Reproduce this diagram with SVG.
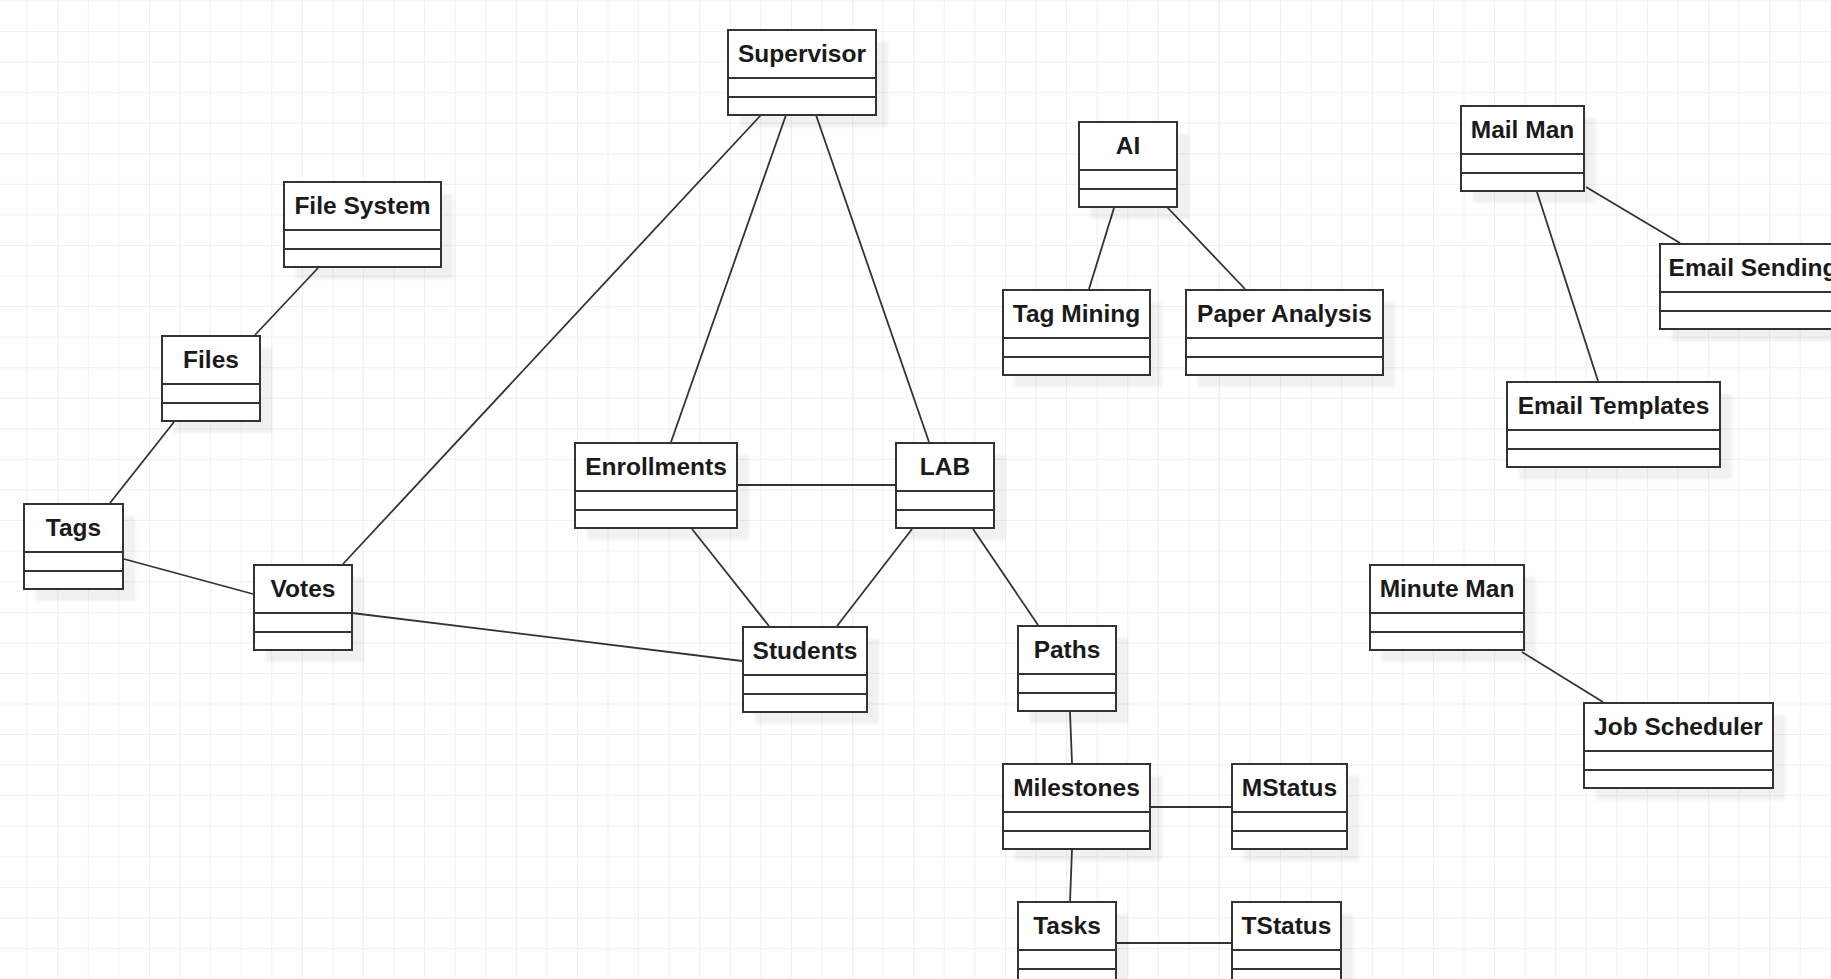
<svg xmlns="http://www.w3.org/2000/svg" width="1831" height="979" viewBox="0 0 1831 979">
<defs>
<pattern id="grid" width="30.57" height="30.57" patternUnits="userSpaceOnUse" x="26.7" y="0.4">
<path d="M0 0.5H30.57M0.5 0V30.57" stroke="#efefef" stroke-width="1" fill="none"/>
</pattern>
<filter id="blur" x="-10%" y="-10%" width="120%" height="120%"><feGaussianBlur stdDeviation="1.5"/></filter>
<style>
.sh{fill:#000;fill-opacity:0.055;filter:url(#blur)}
.box{fill:#fff;stroke:#333;stroke-width:2}
.div{stroke:#333;stroke-width:2;fill:none}
.lbl{font-family:"Liberation Sans",Arial,sans-serif;font-weight:bold;font-size:24.5px;fill:#1a1a1a;text-anchor:middle}
.con line{stroke:#333;stroke-width:1.8}
</style>
</defs>
<rect width="1831" height="979" fill="#fff"/>
<rect width="1831" height="979" fill="url(#grid)"/>
<g id="connectors" class="con">
<line x1="318" y1="268" x2="255" y2="335"/>
<line x1="174" y1="422" x2="110" y2="503"/>
<line x1="124" y1="559" x2="253" y2="594"/>
<line x1="343" y1="564" x2="761" y2="115"/>
<line x1="352" y1="613" x2="742" y2="661"/>
<line x1="786" y1="115" x2="671" y2="442"/>
<line x1="816" y1="115" x2="929" y2="442"/>
<line x1="737" y1="485" x2="896" y2="485"/>
<line x1="692" y1="529" x2="769" y2="626"/>
<line x1="912" y1="529" x2="837" y2="626"/>
<line x1="973" y1="529" x2="1038" y2="625"/>
<line x1="1070" y1="712" x2="1072" y2="763"/>
<line x1="1150" y1="807" x2="1232" y2="807"/>
<line x1="1072" y1="849" x2="1070" y2="902"/>
<line x1="1116" y1="943" x2="1232" y2="943"/>
<line x1="1114" y1="208" x2="1089" y2="289"/>
<line x1="1167" y1="207" x2="1245" y2="289"/>
<line x1="1537" y1="192" x2="1598" y2="381"/>
<line x1="1586" y1="187" x2="1680" y2="243"/>
<line x1="1522" y1="652" x2="1603" y2="702"/>
</g>
<g id="supervisor" transform="translate(728,30)"><rect class="sh" x="12" y="12" width="148" height="85"/><rect class="box" width="148" height="85"/><path class="div" d="M0 48H148M0 67H148"/><text class="lbl" x="74" y="32">Supervisor</text></g>
<g id="file-system" transform="translate(284,182)"><rect class="sh" x="12" y="12" width="157" height="85"/><rect class="box" width="157" height="85"/><path class="div" d="M0 48H157M0 67H157"/><text class="lbl" x="78.5" y="32">File System</text></g>
<g id="ai" transform="translate(1079,122)"><rect class="sh" x="12" y="12" width="98" height="85"/><rect class="box" width="98" height="85"/><path class="div" d="M0 48H98M0 67H98"/><text class="lbl" x="49" y="32">AI</text></g>
<g id="mail-man" transform="translate(1461,106)"><rect class="sh" x="12" y="12" width="123" height="85"/><rect class="box" width="123" height="85"/><path class="div" d="M0 48H123M0 67H123"/><text class="lbl" x="61.5" y="32">Mail Man</text></g>
<g id="email-sending" transform="translate(1660,244)"><rect class="sh" x="12" y="12" width="186" height="85"/><rect class="box" width="186" height="85"/><path class="div" d="M0 48H186M0 67H186"/><text class="lbl" x="93" y="32">Email Sending</text></g>
<g id="tag-mining" transform="translate(1003,290)"><rect class="sh" x="12" y="12" width="147" height="85"/><rect class="box" width="147" height="85"/><path class="div" d="M0 48H147M0 67H147"/><text class="lbl" x="73.5" y="32">Tag Mining</text></g>
<g id="paper-analysis" transform="translate(1186,290)"><rect class="sh" x="12" y="12" width="197" height="85"/><rect class="box" width="197" height="85"/><path class="div" d="M0 48H197M0 67H197"/><text class="lbl" x="98.5" y="32">Paper Analysis</text></g>
<g id="files" transform="translate(162,336)"><rect class="sh" x="12" y="12" width="98" height="85"/><rect class="box" width="98" height="85"/><path class="div" d="M0 48H98M0 67H98"/><text class="lbl" x="49" y="32">Files</text></g>
<g id="email-templates" transform="translate(1507,382)"><rect class="sh" x="12" y="12" width="213" height="85"/><rect class="box" width="213" height="85"/><path class="div" d="M0 48H213M0 67H213"/><text class="lbl" x="106.5" y="32">Email Templates</text></g>
<g id="enrollments" transform="translate(575,443)"><rect class="sh" x="12" y="12" width="162" height="85"/><rect class="box" width="162" height="85"/><path class="div" d="M0 48H162M0 67H162"/><text class="lbl" x="81" y="32">Enrollments</text></g>
<g id="lab" transform="translate(896,443)"><rect class="sh" x="12" y="12" width="98" height="85"/><rect class="box" width="98" height="85"/><path class="div" d="M0 48H98M0 67H98"/><text class="lbl" x="49" y="32">LAB</text></g>
<g id="tags" transform="translate(24,504)"><rect class="sh" x="12" y="12" width="99" height="85"/><rect class="box" width="99" height="85"/><path class="div" d="M0 48H99M0 67H99"/><text class="lbl" x="49.5" y="32">Tags</text></g>
<g id="votes" transform="translate(254,565)"><rect class="sh" x="12" y="12" width="98" height="85"/><rect class="box" width="98" height="85"/><path class="div" d="M0 48H98M0 67H98"/><text class="lbl" x="49" y="32">Votes</text></g>
<g id="minute-man" transform="translate(1370,565)"><rect class="sh" x="12" y="12" width="154" height="85"/><rect class="box" width="154" height="85"/><path class="div" d="M0 48H154M0 67H154"/><text class="lbl" x="77" y="32">Minute Man</text></g>
<g id="students" transform="translate(743,627)"><rect class="sh" x="12" y="12" width="124" height="85"/><rect class="box" width="124" height="85"/><path class="div" d="M0 48H124M0 67H124"/><text class="lbl" x="62" y="32">Students</text></g>
<g id="paths" transform="translate(1018,626)"><rect class="sh" x="12" y="12" width="98" height="85"/><rect class="box" width="98" height="85"/><path class="div" d="M0 48H98M0 67H98"/><text class="lbl" x="49" y="32">Paths</text></g>
<g id="job-scheduler" transform="translate(1584,703)"><rect class="sh" x="12" y="12" width="189" height="85"/><rect class="box" width="189" height="85"/><path class="div" d="M0 48H189M0 67H189"/><text class="lbl" x="94.5" y="32">Job Scheduler</text></g>
<g id="milestones" transform="translate(1003,764)"><rect class="sh" x="12" y="12" width="147" height="85"/><rect class="box" width="147" height="85"/><path class="div" d="M0 48H147M0 67H147"/><text class="lbl" x="73.5" y="32">Milestones</text></g>
<g id="mstatus" transform="translate(1232,764)"><rect class="sh" x="12" y="12" width="115" height="85"/><rect class="box" width="115" height="85"/><path class="div" d="M0 48H115M0 67H115"/><text class="lbl" x="57.5" y="32">MStatus</text></g>
<g id="tasks" transform="translate(1018,902)"><rect class="sh" x="12" y="12" width="98" height="85"/><rect class="box" width="98" height="85"/><path class="div" d="M0 48H98M0 67H98"/><text class="lbl" x="49" y="32">Tasks</text></g>
<g id="tstatus" transform="translate(1232,902)"><rect class="sh" x="12" y="12" width="109" height="85"/><rect class="box" width="109" height="85"/><path class="div" d="M0 48H109M0 67H109"/><text class="lbl" x="54.5" y="32">TStatus</text></g>
</svg>
